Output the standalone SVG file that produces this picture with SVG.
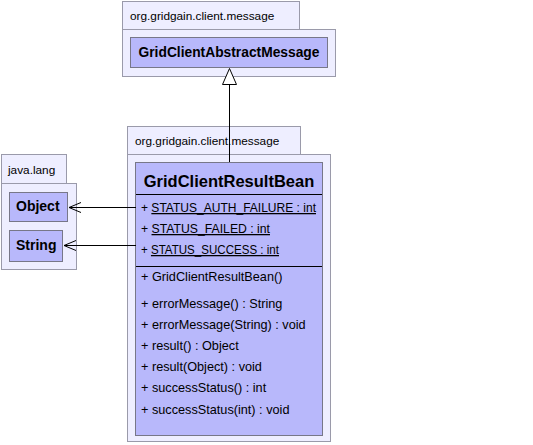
<svg xmlns="http://www.w3.org/2000/svg" width="533" height="445" viewBox="0 0 533 445">
<defs>
<style>
.pkg{fill:#eeeeff;stroke:#9a9aaa;stroke-width:1}
.cls{fill:#b8b8fb;stroke:#777788;stroke-width:1}
.t{font-family:"Liberation Sans",Arial,sans-serif;font-size:12.7px;fill:#000}
.pt{font-family:"Liberation Sans",Arial,sans-serif;font-size:11.8px;fill:#000}
.b{font-family:"Liberation Sans",Arial,sans-serif;font-weight:bold;fill:#000}
.ln{stroke:#000;stroke-width:1;fill:none}
.u{text-decoration:underline}
</style>
<marker id="open" markerWidth="14" markerHeight="12" refX="13" refY="6" orient="auto" markerUnits="userSpaceOnUse">
<path d="M1,1 L13,6 L1,11" fill="none" stroke="#000" stroke-width="1"/>
</marker>
</defs>
<g id="pkg-top">
<rect class="pkg" x="122.5" y="1.5" width="177" height="28"/>
<rect class="pkg" x="122.5" y="29.5" width="213" height="47"/>
<text class="pt" x="130" y="20">org.gridgain.client.message</text>
</g>
<g id="GridClientAbstractMessage">
<rect class="cls" x="130.5" y="37.5" width="197" height="30"/>
<text class="b" x="229" y="57" font-size="13.8" text-anchor="middle">GridClientAbstractMessage</text>
</g>
<g id="pkg-java">
<rect class="pkg" x="1.5" y="154.5" width="65" height="29"/>
<rect class="pkg" x="1.5" y="183.5" width="75" height="86"/>
<text class="pt" x="8" y="174">java.lang</text>
</g>
<g id="Object">
<rect class="cls" x="9.5" y="192.5" width="58" height="29"/>
<text class="b" x="16" y="211" font-size="14">Object</text>
</g>
<g id="String">
<rect class="cls" x="9.5" y="230.5" width="53" height="31"/>
<text class="b" x="16" y="250" font-size="14">String</text>
</g>
<g id="pkg-center">
<rect class="pkg" x="127.5" y="126.5" width="173" height="28"/>
<rect class="pkg" x="127.5" y="154.5" width="203" height="287"/>
<text class="pt" x="135" y="145">org.gridgain.client.message</text>
</g>
<g id="GridClientResultBean">
<rect class="cls" x="135.5" y="162.5" width="187" height="273" stroke="#666677"/>
<text class="b" x="229" y="187" font-size="16.5" text-anchor="middle">GridClientResultBean</text>
<line class="ln" x1="136" y1="194.5" x2="322" y2="194.5"/>
<text class="t" x="141" y="212" textLength="175" lengthAdjust="spacingAndGlyphs">+ <tspan class="u">STATUS_AUTH_FAILURE : int</tspan></text>
<text class="t" x="141" y="233" textLength="129" lengthAdjust="spacingAndGlyphs">+ <tspan class="u">STATUS_FAILED : int</tspan></text>
<text class="t" x="141" y="254" textLength="138" lengthAdjust="spacingAndGlyphs">+ <tspan class="u">STATUS_SUCCESS : int</tspan></text>
<line class="ln" x1="136" y1="266.5" x2="322" y2="266.5"/>
<text class="t" x="141" y="281">+ GridClientResultBean()</text>
<text class="t" x="141" y="308">+ errorMessage() : String</text>
<text class="t" x="141" y="329">+ errorMessage(String) : void</text>
<text class="t" x="141" y="350">+ result() : Object</text>
<text class="t" x="141" y="371">+ result(Object) : void</text>
<text class="t" x="141" y="392">+ successStatus() : int</text>
<text class="t" x="141" y="414">+ successStatus(int) : void</text>
</g>
<g id="connectors">
<line class="ln" x1="229.5" y1="162" x2="229.5" y2="84"/>
<path d="M222.5,84.5 L236.5,84.5 L229.5,68.5 Z" fill="#fff" stroke="#000" stroke-width="1"/>
<line class="ln" x1="136" y1="207.5" x2="69" y2="207.5" marker-end="url(#open)"/>
<line class="ln" x1="136" y1="245.5" x2="64" y2="245.5" marker-end="url(#open)"/>
</g>
</svg>
